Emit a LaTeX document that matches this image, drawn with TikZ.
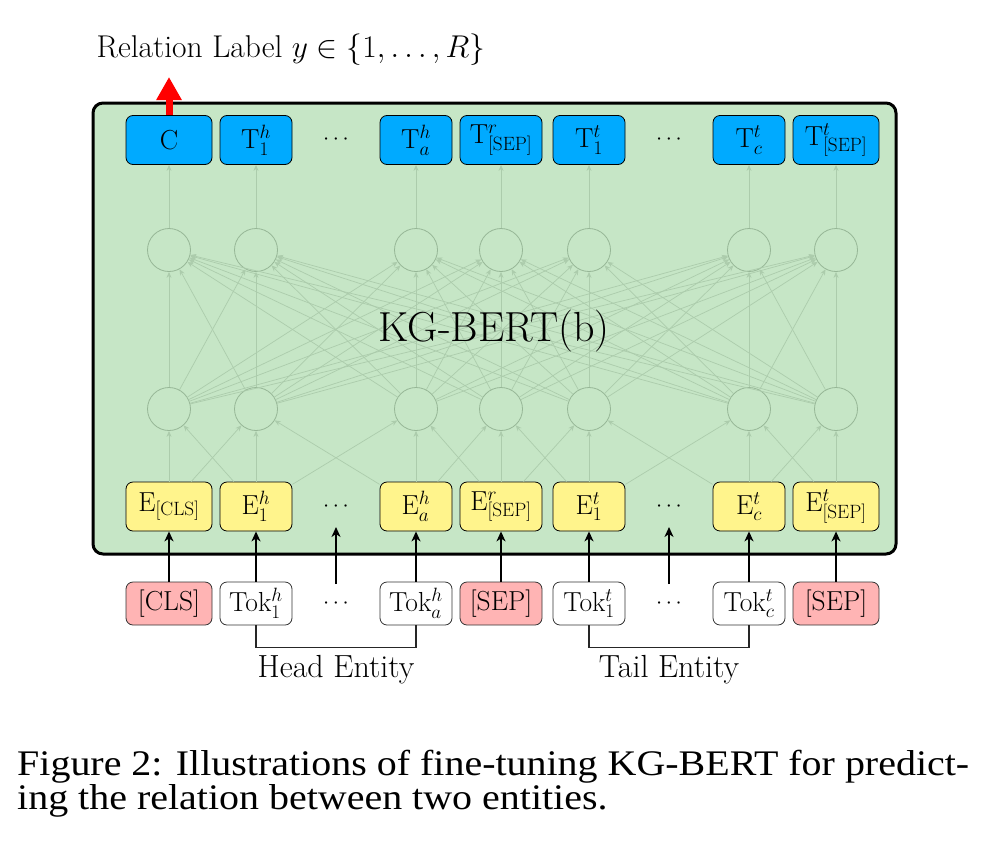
\RequirePackage{fix-cm}
\documentclass[tikz,border=0pt]{standalone}
\usepackage{fontspec}
\newfontfamily\capfont[FakeStretch=1.11]{Liberation Serif}
\usetikzlibrary{arrows.meta}
\definecolor{bgg}{RGB}{198,230,198}
\definecolor{tblue}{RGB}{0,170,255}
\definecolor{eyel}{RGB}{255,244,140}
\definecolor{tpink}{RGB}{255,180,180}
\definecolor{faint}{RGB}{172,204,172}
\definecolor{circ}{RGB}{150,182,150}
\begin{document}
\begin{tikzpicture}[x=1pt,y=-1pt,
 box/.style={draw=black, rounded corners=7pt, inner sep=0pt, minimum height=49pt, font=\fontsize{27.5}{32}\selectfont, line width=0.8pt},
 tbox/.style={box, fill=tblue},
 ebox/.style={box, fill=eyel},
 tokbox/.style={box, minimum height=43pt, draw=black!80},
 pbox/.style={tokbox, fill=tpink},
 wbox/.style={tokbox, fill=white},
 neuron/.style={circle, draw=circ, line width=0.8pt, minimum size=43pt, inner sep=0pt},
 flow/.style={draw=faint, line width=0.7pt, -{Stealth[length=6pt,width=5pt]}},
 feed/.style={line width=2pt, -{Stealth[length=10pt,width=9pt,inset=3pt]}},
 dotsl/.style={font=\fontsize{22}{24}\selectfont, inner sep=0pt},
 lbl/.style={font=\fontsize{32}{36}\selectfont, inner sep=0pt}
]
\useasboundingbox (0,0) rectangle (992,846);
% container
\node[draw=black, fill=bgg, line width=3pt, rounded corners=10pt, minimum width=803pt, minimum height=451pt, inner sep=0pt] (kg) at (494.5,328.5) {};
% top row
\node[tbox, minimum width=86pt] (t1) at (169,140) {C};
\node[tbox, minimum width=72pt] (t2) at (256,140) {$\mathrm{T}^h_1$};
\node[dotsl] (td1) at (336,140) {$\cdots$};
\node[tbox, minimum width=72pt] (t3) at (416,140) {$\mathrm{T}^h_a$};
\node[tbox, minimum width=82pt] (t4) at (501,140) {$\mathrm{T}^r_{\mathrm{[SEP]}}$};
\node[tbox, minimum width=72pt] (t5) at (589,140) {$\mathrm{T}^t_1$};
\node[dotsl] (td2) at (669,140) {$\cdots$};
\node[tbox, minimum width=72pt] (t6) at (749,140) {$\mathrm{T}^t_c$};
\node[tbox, minimum width=86pt] (t7) at (836,140) {$\mathrm{T}^t_{\mathrm{[SEP]}}$};
% neurons
\foreach \i/\x in {1/169,2/256,3/416,4/501,5/589,6/749,7/836}{
  \node[neuron] (u\i) at (\x,250) {};
  \node[neuron] (l\i) at (\x,409) {};
}
% embeddings
\node[ebox, minimum width=86pt] (e1) at (169,506.5) {$\mathrm{E}_{\mathrm{[CLS]}}$};
\node[ebox, minimum width=72pt] (e2) at (256,506.5) {$\mathrm{E}^h_1$};
\node[dotsl] (ed1) at (336,506.5) {$\cdots$};
\node[ebox, minimum width=72pt] (e3) at (416,506.5) {$\mathrm{E}^h_a$};
\node[ebox, minimum width=82pt] (e4) at (501,506.5) {$\mathrm{E}^r_{\mathrm{[SEP]}}$};
\node[ebox, minimum width=72pt] (e5) at (589,506.5) {$\mathrm{E}^t_1$};
\node[dotsl] (ed2) at (669,506.5) {$\cdots$};
\node[ebox, minimum width=72pt] (e6) at (749,506.5) {$\mathrm{E}^t_c$};
\node[ebox, minimum width=86pt] (e7) at (836,506.5) {$\mathrm{E}^t_{\mathrm{[SEP]}}$};
% tokens
\node[pbox, minimum width=86pt] (k1) at (169,603.5) {[CLS]};
\node[wbox, minimum width=72pt] (k2) at (256,603.5) {Tok$^h_1$};
\node[dotsl] (kd1) at (336,603.5) {$\cdots$};
\node[wbox, minimum width=72pt] (k3) at (416,603.5) {Tok$^h_a$};
\node[pbox, minimum width=82pt] (k4) at (501,603.5) {[SEP]};
\node[wbox, minimum width=72pt] (k5) at (589,603.5) {Tok$^t_1$};
\node[dotsl] (kd2) at (669,603.5) {$\cdots$};
\node[wbox, minimum width=72pt] (k6) at (749,603.5) {Tok$^t_c$};
\node[pbox, minimum width=86pt] (k7) at (836,603.5) {[SEP]};
% faint connections
\foreach \i in {1,...,7}{
  \draw[flow] (u\i) -- (t\i);
  \draw[flow] (e\i) -- (l\i);
  \foreach \j in {1,...,7}{ \draw[flow] (l\i) -- (u\j); }
}
\foreach \i [evaluate=\i as \j using int(\i+1)] in {1,...,6}{
  \draw[flow] (e\i) -- (l\j);
  \draw[flow] (e\j) -- (l\i);
}
\node[font=\fontsize{42}{48}\selectfont, inner sep=0pt] (kgl) at (494,331) {KG-BERT(b)};
% feeds
\foreach \i in {1,...,7}{ \draw[feed] (k\i) -- (e\i); }
\coordinate (da1) at (336,584); \coordinate (db1) at (336,527);
\coordinate (da2) at (669,584); \coordinate (db2) at (669,527);
\draw[feed] (da1) -- (db1);
\draw[feed] (da2) -- (db2);
% output
\coordinate (rl) at (169,77);
\draw[red, line width=7pt, -{Triangle[length=23pt,width=24pt]}] (t1.north) -- (rl);
\node[font=\fontsize{31.5}{36}\selectfont, inner sep=0pt] (rel) at (291,50) {Relation Label $y \in \{1,\ldots,R\}$};
% brackets
\draw[line width=1.3pt, draw=black!85] (k2.south) -- ++(0,22) -| (k3.south);
\draw[line width=1.3pt, draw=black!85] (k5.south) -- ++(0,22) -| (k6.south);
\node[lbl] (he) at (336,670) {Head Entity};
\node[lbl] (te) at (669,670) {Tail Entity};
% caption
\node[anchor=base west, inner sep=0pt, font=\capfont\fontsize{36}{40}\selectfont] (cap1) at (17,775) {Figure 2: Illustrations of fine-tuning KG-BERT for predict-};
\node[anchor=base west, inner sep=0pt, font=\capfont\fontsize{36}{40}\selectfont] (cap2) at (17,809) {ing the relation between two entities.};
\end{tikzpicture}
\end{document}
